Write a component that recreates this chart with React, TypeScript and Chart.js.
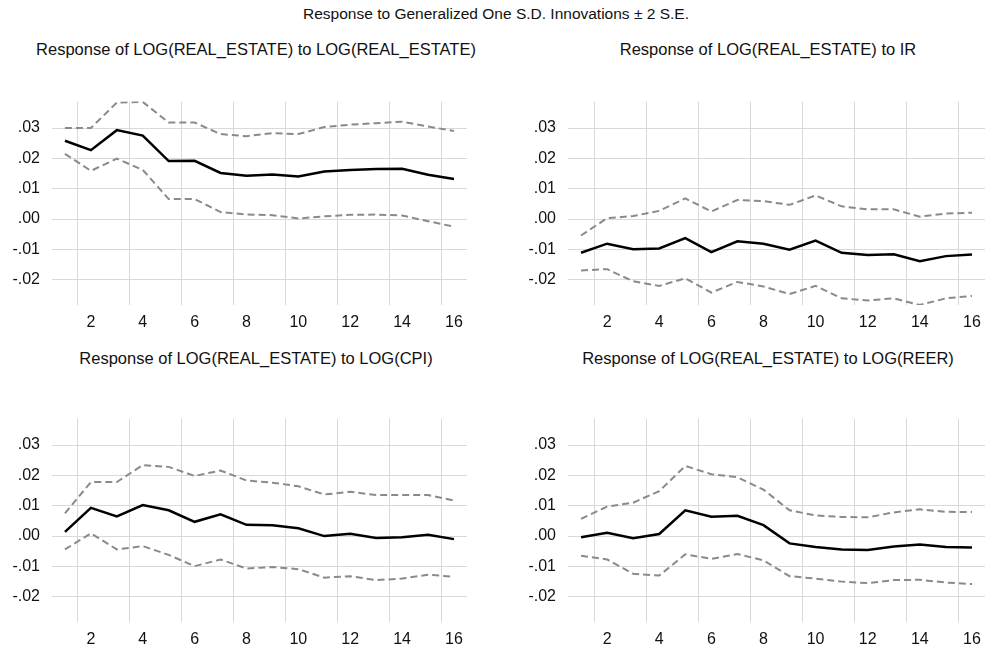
import React, { useEffect, useRef } from "react";
import { Chart, registerables } from "chart.js";

Chart.register(...registerables);

// ---- data ----
const periods = [1, 2, 3, 4, 5, 6, 7, 8, 9, 10, 11, 12, 13, 14, 15, 16];
const xTickValues = [2, 4, 6, 8, 10, 12, 14, 16];
const xGridValues = [1.5, 3.5, 5.5, 7.5, 9.5, 11.5, 13.5, 15.5];
const yTickValues = [-0.02, -0.01, 0, 0.01, 0.02, 0.03];

const mainTitle = "Response to Generalized One S.D. Innovations \u00b1 2 S.E.";
const panelTitles = [
  "Response of LOG(REAL_ESTATE) to LOG(REAL_ESTATE)",
  "Response of LOG(REAL_ESTATE) to IR",
  "Response of LOG(REAL_ESTATE) to LOG(CPI)",
  "Response of LOG(REAL_ESTATE) to LOG(REER)",
];

// Response of LOG(REAL_ESTATE) to LOG(REAL_ESTATE)
const reResp = [0.0258, 0.0227, 0.0293, 0.0275, 0.0191, 0.0192, 0.0152, 0.0143, 0.0147, 0.014, 0.0157, 0.0162, 0.0165, 0.0166, 0.0146, 0.0132];
const reUpper = [0.030, 0.030, 0.0384, 0.0386, 0.0318, 0.0318, 0.028, 0.0273, 0.0283, 0.028, 0.0303, 0.0311, 0.0316, 0.0321, 0.0305, 0.029];
const reLower = [0.0215, 0.0159, 0.0199, 0.0162, 0.0066, 0.0066, 0.0023, 0.0015, 0.0013, 0.0002, 0.0009, 0.0014, 0.0015, 0.0012, -0.0007, -0.0025];

// Response of LOG(REAL_ESTATE) to IR
const irResp = [-0.0111, -0.0081, -0.0099, -0.0097, -0.0063, -0.0109, -0.0073, -0.0081, -0.0101, -0.0071, -0.0111, -0.0118, -0.0116, -0.0139, -0.0122, -0.0117];
const irUpper = [-0.0054, 0.0003, 0.001, 0.0027, 0.0068, 0.0025, 0.0063, 0.0059, 0.0047, 0.0078, 0.0042, 0.0032, 0.0032, 0.0008, 0.0018, 0.0021];
const irLower = [-0.0169, -0.0165, -0.0205, -0.022, -0.0195, -0.0242, -0.0207, -0.0222, -0.0247, -0.022, -0.0261, -0.0268, -0.0261, -0.0283, -0.0261, -0.0253];

// Response of LOG(REAL_ESTATE) to LOG(CPI)
const cpiResp = [0.0014, 0.0093, 0.0065, 0.0102, 0.0085, 0.0047, 0.0072, 0.0037, 0.0036, 0.0026, 0.0, 0.0008, -0.0006, -0.0004, 0.0004, -0.001];
const cpiUpper = [0.0075, 0.0178, 0.0178, 0.0234, 0.0228, 0.0198, 0.0216, 0.0183, 0.0176, 0.0164, 0.0137, 0.0146, 0.0135, 0.0135, 0.0135, 0.0117];
const cpiLower = [-0.0044, 0.0009, -0.0044, -0.0033, -0.0062, -0.0099, -0.0077, -0.0107, -0.0102, -0.0109, -0.0137, -0.0132, -0.0145, -0.014, -0.0127, -0.0134];

// Response of LOG(REAL_ESTATE) to LOG(REER)
const reerResp = [-0.0004, 0.0011, -0.0007, 0.0007, 0.0085, 0.0064, 0.0067, 0.0036, -0.0024, -0.0036, -0.0044, -0.0046, -0.0034, -0.0028, -0.0036, -0.0038];
const reerUpper = [0.0057, 0.0097, 0.011, 0.0148, 0.0231, 0.0204, 0.0194, 0.0153, 0.0085, 0.0068, 0.0063, 0.0062, 0.0078, 0.0088, 0.008, 0.0079];
const reerLower = [-0.0065, -0.0077, -0.0124, -0.013, -0.006, -0.0075, -0.0059, -0.008, -0.0132, -0.014, -0.015, -0.0155, -0.0145, -0.0144, -0.0153, -0.0158];

const FONT = "'Liberation Sans', Arial, Helvetica, sans-serif";
const GRID = "#d9d9d9";

type PanelProps = {
  resp: number[];
  upper: number[];
  lower: number[];
  left: number;
  top: number;
  width: number;
  height: number;
};

function toPoints(vals: number[]) {
  return periods.map((p, i) => ({ x: p, y: vals[i] }));
}

function fmtY(v: number) {
  const s = Number(v).toFixed(2);
  return s.replace("0.", ".");
}

function Panel({ resp, upper, lower, left, top, width, height }: PanelProps) {
  const ref = useRef<HTMLCanvasElement | null>(null);
  useEffect(() => {
    if (!ref.current) return;
    const band = {
      borderColor: "#8a8a8a",
      borderWidth: 2,
      borderDash: [7, 4],
      pointRadius: 0,
      fill: false,
      tension: 0,
      xAxisID: "x",
      yAxisID: "y",
    };
    const chart = new Chart(ref.current, {
      type: "line",
      data: {
        datasets: [
          { ...band, data: toPoints(upper) },
          { ...band, data: toPoints(lower) },
          {
            data: toPoints(resp),
            borderColor: "#000000",
            borderWidth: 2.5,
            pointRadius: 0,
            fill: false,
            tension: 0,
            xAxisID: "x",
            yAxisID: "y",
          },
        ],
      },
      options: {
        animation: false,
        responsive: false,
        maintainAspectRatio: false,
        layout: { padding: { top: 4, left: 0, right: 0, bottom: 0 } },
        plugins: {
          legend: { display: false },
          tooltip: { enabled: false },
          title: { display: false },
        },
        scales: {
          xg: {
            type: "linear",
            position: "bottom",
            min: 0.5,
            max: 16.5,
            grid: { color: GRID, lineWidth: 1, drawTicks: false },
            border: { display: false },
            ticks: { display: false },
            afterBuildTicks: (s: any) => {
              s.ticks = xGridValues.map((v) => ({ value: v }));
            },
            afterFit: (s: any) => {
              s.height = 0;
            },
          },
          x: {
            type: "linear",
            position: "bottom",
            min: 0.5,
            max: 16.5,
            grid: { display: false, drawTicks: false },
            border: { display: false },
            afterBuildTicks: (s: any) => {
              s.ticks = xTickValues.map((v) => ({ value: v }));
            },
            ticks: {
              autoSkip: false,
              maxRotation: 0,
              padding: 8,
              color: "#111",
              font: { family: FONT, size: 16 },
              callback: (v: any) => String(v),
            },
            afterFit: (s: any) => {
              s.height = 35;
            },
          },
          y: {
            type: "linear",
            min: -0.0283,
            max: 0.0387,
            grid: { color: GRID, lineWidth: 1, drawTicks: false },
            border: { display: false },
            afterBuildTicks: (s: any) => {
              s.ticks = yTickValues.map((v) => ({ value: v }));
            },
            ticks: {
              padding: 12,
              color: "#111",
              font: { family: FONT, size: 16 },
              callback: (v: any) => fmtY(v),
            },
            afterFit: (s: any) => {
              s.width = 52;
            },
          },
        },
      } as any,
    });
    return () => chart.destroy();
  }, [resp, upper, lower]);

  return (
    <canvas
      ref={ref}
      width={width}
      height={height}
      style={{ position: "absolute", left, top, width, height }}
    />
  );
}

function Title({ text, x, y, size }: { text: string; x: number; y: number; size: number }) {
  return (
    <div
      style={{
        position: "absolute",
        left: x,
        top: y,
        transform: "translate(-50%, -50%)",
        whiteSpace: "nowrap",
        fontFamily: FONT,
        fontSize: size,
        color: "#111",
        lineHeight: 1,
      }}
    >
      {text}
    </div>
  );
}

export default function App() {
  return (
    <div
      style={{
        position: "absolute",
        left: 0,
        top: 0,
        width: 993,
        height: 645,
        background: "#ffffff",
        overflow: "hidden",
      }}
    >
      <Title text={mainTitle} x={496} y={14} size={15.5} />
      <Title text={panelTitles[0]} x={256} y={49} size={16.5} />
      <Title text={panelTitles[1]} x={768} y={49} size={16.5} />
      <Title text={panelTitles[2]} x={256} y={358} size={16.5} />
      <Title text={panelTitles[3]} x={768} y={358} size={16.5} />
      <Panel resp={reResp} upper={reUpper} lower={reLower} left={0} top={80} width={471} height={260} />
      <Panel resp={irResp} upper={irUpper} lower={irLower} left={516} top={80} width={473} height={260} />
      <Panel resp={cpiResp} upper={cpiUpper} lower={cpiLower} left={0} top={397} width={471} height={260} />
      <Panel resp={reerResp} upper={reerUpper} lower={reerLower} left={516} top={397} width={473} height={260} />
    </div>
  );
}
